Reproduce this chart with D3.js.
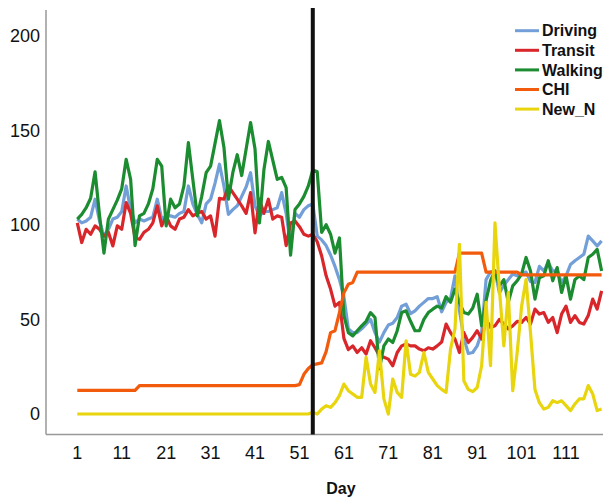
<!DOCTYPE html>
<html>
<head>
<meta charset="utf-8">
<script src="https://cdn.jsdelivr.net/npm/d3@7"></script>
<style>
  body { margin: 0; background: #fff; }
  text { font-family: "Liberation Sans", Arial, sans-serif; fill: #111; }
</style>
</head>
<body>
<div id="chart"></div>
<script>
// Day index 1..119
const days = d3.range(1, 120);

const driving = [103,101,102,104,113.5,102,94,97.6,103,104,107,120.5,108,101,103,102,103,104,113.5,103,
  104.7,104.7,104,106,107,120.5,111,105.5,101,111,113.5,122,132,120.5,105.5,108,110,115,120,127.5,
  110,104.7,107,107,108,109,117,106,89,106,104,108,110,111,94,92,89,84,78,71,
  62,45,43,43,45,47.5,50,43,38,43,47,48,51,57,58,53,54.5,57,59,61,
  61,62,54,59,61,73,55,40,32,32.5,36,43,71,75,75.6,64,68,71,74,73,
  74,75,70,69.5,78,75.6,80,75.6,75.6,69.5,73,79,81,82.7,84.4,94,91.5,88.8,91.5];

const transit = [101,90.6,97.6,95,99.4,97.6,94,96,88.8,99.4,97.6,111.7,106,93,92.3,96,97.6,101,110,99.4,
  104.7,99.4,97.6,103,104,108,104.7,106,107,103,104.7,94,114,113.5,120.5,117,113.5,110,106,117,
  95.7,113.5,106,113.5,103,104.7,104,89,101,102,99,95,94,95,91,83.5,73,66,57,59,
  40,34,36,32.5,35,31.7,38.7,35,30.8,30,29,25.5,32.5,36,37,36,36,34.3,33.4,35,
  34.3,36,38,47.5,43,39.6,32.5,43,37.8,40.5,44,39.6,50,45.7,46.6,50,47.5,45,46.6,49,
  48.4,51,47.5,55.4,52.8,53.6,48.4,51,43,52.8,57,48.4,52,48.4,47.5,52,60.7,55.4,65];

const walking = [103,105.5,109,114,128,105,85,103,108,113,119,134.6,124,89,104.7,106,111,119,134.6,131,
  99.4,113.5,109,111,120.5,143.4,124,104.7,115,127.5,131,143,155,141,113.5,127.5,137,126,140,154,
  140,101,129,144,134,124,125,119.6,84,108,111,115,120.5,129,128,96,100,95,85,93,
  52,43,41.3,44,46.6,49,53.6,51,24,36,39.6,37.8,44,53.6,54.5,49,44,44,50,53.6,
  55.4,57,56,62,59,66,59,53.6,52.8,56,63.3,46.6,60,70.4,75.6,67.7,71,59,67.7,70.4,
  74,82.7,75.6,60.7,72,73,81,70.4,77.4,64.2,73,60.7,71,73,71,82.7,84.4,87,75.6];

const chi = [12.5,12.5,12.5,12.5,12.5,12.5,12.5,12.5,12.5,12.5,12.5,12.5,12.5,12.5,15,15,15,15,15,15,
  15,15,15,15,15,15,15,15,15,15,15,15,15,15,15,15,15,15,15,15,
  15,15,15,15,15,15,15,15,15,15,15.5,21,24,26,26.5,27,33,43,44,53.6,
  64,68.6,69.5,75,75,75,75,75,75,75,75,75,75,75,75,75,75,75,75,75,
  75,75,75,75,75,75,85,85,85,85,85,85,75,75,75,75,75,75,75,75,
  73.5,73.5,73.5,73.5,73.5,73.5,73.5,73.5,73.5,73.5,73.5,73.5,73.5,73.5,73.5,73.5,73.5,73.5,73.5];

const newN = [0,0,0,0,0,0,0,0,0,0,0,0,0,0,0,0,0,0,0,0,
  0,0,0,0,0,0,0,0,0,0,0,0,0,0,0,0,0,0,0,0,
  0,0,0,0,0,0,0,0,0,0,0,0,0,1,0,2.6,4.4,3.5,6,9.7,
  15.8,12.3,10.6,8.8,8.8,30,15.8,11.4,33.4,8,0,18.5,11.4,8.8,38.7,21,20,22,32.5,22,
  18.5,15,13,11.4,34.3,44.9,89.7,17.6,13,11.8,14,25.5,59,25.5,101,66,36,64.2,12.3,32.5,
  57,71,43,13,6,2.6,3.5,7,6,7,4.4,1.8,5.3,8,8,15,10.6,1.8,2.6];

const seriesNames = ["Driving", "Transit", "Walking", "CHI", "New_N"];
const seriesColors = ["#739fd8", "#d8262b", "#1c8c30", "#f25a0c", "#e8d50e"];
const seriesValues = [driving, transit, walking, chi, newN];

const xTicks = [1, 11, 21, 31, 41, 51, 61, 71, 81, 91, 101, 111];
const yTicks = [0, 50, 100, 150, 200];
const markerDay = 54;

const width = 603, height = 499;

const svg = d3.select("#chart")
  .append("svg")
  .attr("width", width)
  .attr("height", height);

const x = d3.scaleLinear().domain([1, 119]).range([77.3, 601.6]);
const y = d3.scaleLinear().domain([0, 200]).range([414, 35.5]);

// axis lines
svg.append("line")
  .attr("x1", 46).attr("x2", 46).attr("y1", 10).attr("y2", 434.5)
  .attr("stroke", "#999").attr("stroke-width", 1.5);
svg.append("line")
  .attr("x1", 46).attr("x2", width).attr("y1", 434.5).attr("y2", 434.5)
  .attr("stroke", "#999").attr("stroke-width", 1.5);

// tick labels
svg.selectAll(".ylab")
  .data(yTicks)
  .enter().append("text")
  .attr("x", 40)
  .attr("y", d => y(d))
  .attr("dy", "0.36em")
  .attr("text-anchor", "end")
  .attr("font-size", 18)
  .text(d => d);

svg.selectAll(".xlab")
  .data(xTicks)
  .enter().append("text")
  .attr("x", d => x(d))
  .attr("y", 453)
  .attr("dy", "0.36em")
  .attr("text-anchor", "middle")
  .attr("font-size", 18)
  .text(d => d);

svg.append("text")
  .attr("x", 341)
  .attr("y", 488)
  .attr("dy", "0.36em")
  .attr("text-anchor", "middle")
  .attr("font-size", 16)
  .attr("font-weight", "bold")
  .text("Day");

// series lines
const line = d3.line()
  .x((d, i) => x(days[i]))
  .y(d => y(d));

seriesValues.forEach((vals, k) => {
  svg.append("path")
    .datum(vals)
    .attr("fill", "none")
    .attr("stroke", seriesColors[k])
    .attr("stroke-width", 3.2)
    .attr("stroke-linejoin", "round")
    .attr("d", line);
});

// marker line
svg.append("line")
  .attr("x1", x(markerDay)).attr("x2", x(markerDay))
  .attr("y1", 8).attr("y2", 434.5)
  .attr("stroke", "#111").attr("stroke-width", 4);

// legend
const legend = svg.append("g");
seriesNames.forEach((name, k) => {
  const ly = 30.7 + k * 19.6;
  legend.append("line")
    .attr("x1", 515).attr("x2", 539).attr("y1", ly).attr("y2", ly)
    .attr("stroke", seriesColors[k]).attr("stroke-width", 3);
  legend.append("text")
    .attr("x", 542)
    .attr("y", ly)
    .attr("dy", "0.36em")
    .attr("font-size", 16)
    .attr("font-weight", "bold")
    .text(name);
});
</script>
</body>
</html>
